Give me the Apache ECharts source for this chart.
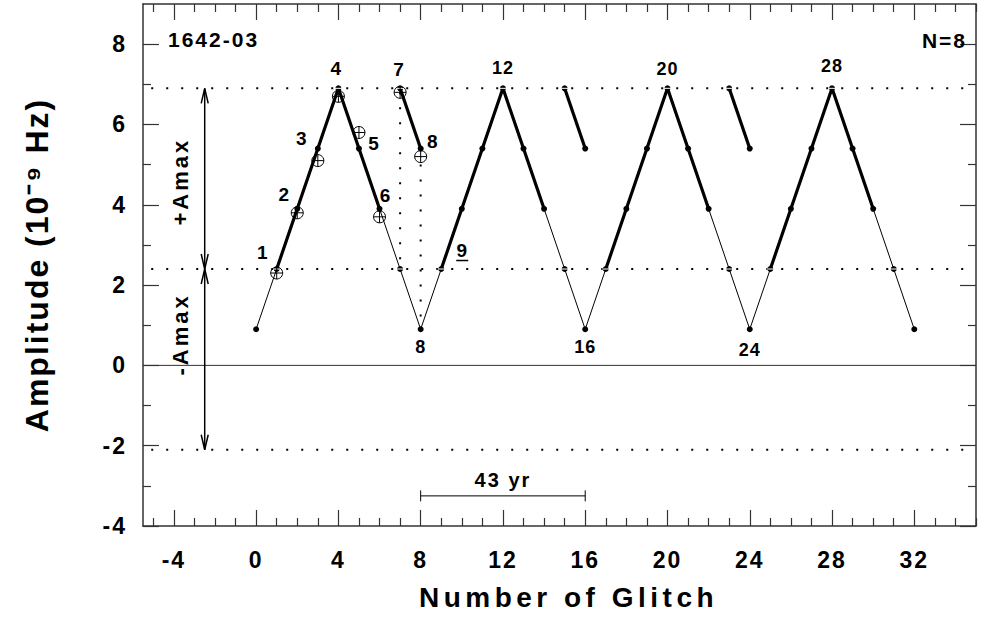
<!DOCTYPE html>
<html><head><meta charset="utf-8">
<script src="https://cdn.jsdelivr.net/npm/echarts@6/dist/echarts.min.js"></script>
<style>
html,body{margin:0;padding:0;background:#fff;}
#main{width:989px;height:618px;}
#main text[style*="23px"]{letter-spacing:2px;}
#main text[style*="28px"]{letter-spacing:4.5px;}
#main text[style*="32px"]{letter-spacing:2px;}
#main text[style*="21px"]{letter-spacing:2px;}
#main text[style*="22px"]{letter-spacing:3px;}
#main text[style*="20px"]{letter-spacing:2px;}
#main text[style*="19px"]{letter-spacing:1px;}
#main text[style*="18px"]{letter-spacing:1px;}
</style></head><body><div id="main"></div>
<script>
// ---- data ----
const modelX = [0,1,2,3,4,5,6,7,8,9,10,11,12,13,14,15,16,17,18,19,20,21,22,23,24,25,26,27,28,29,30,31,32];
const modelY = [0.9,2.4,3.9,5.4,6.9,5.4,3.9,2.4,
                0.9,2.4,3.9,5.4,6.9,5.4,3.9,2.4,
                0.9,2.4,3.9,5.4,6.9,5.4,3.9,2.4,
                0.9,2.4,3.9,5.4,6.9,5.4,3.9,2.4,
                0.9];
const thickRanges = [[1,6],[9,14],[17,22],[25,30]];   // index ranges drawn bold
const shortSegX = [[7,8],[15,16],[23,24]];
const shortSegY = [[6.9,5.4],[6.9,5.4],[6.9,5.4]];
const obsX = [1,2,3,4,5,6,7,8];
const obsY = [2.3,3.8,5.1,6.7,5.8,3.7,6.8,5.2];
const obsNames = ['1','2','3','4','5','6','7','8'];
const modelLabelX = [8,12,16,20,24,28];
const modelLabelText = ['8','12','16','20','24','28'];
const nextGlitchX = 9;
const nextGlitchText = '9';
const aMaxTop = 6.9, aMaxMid = 2.4, aMaxBottom = -2.1;
const arrowX = -2.5;
const arrowSpans = [[aMaxMid, aMaxTop], [aMaxBottom, aMaxMid]];
const arrowTexts = ['+Amax', '-Amax'];
const scaleBarX = [8, 16];
const scaleBarY = -3.25;
const scaleBarText = '43 yr';
const xTicks = [-4,0,4,8,12,16,20,24,28,32];
const xMinor = [-5,-3,-2,-1,1,2,3,5,6,7,9,10,11,13,14,15,17,18,19,21,22,23,25,26,27,29,30,31,33,34,35];
const yTicks = [-4,-2,0,2,4,6,8];
const yMinor = [-3,-1,1,3,5,7];
const X_MIN = -5.5, X_MAX = 35, Y_MIN = -4, Y_MAX = 9;

// ---- styling ----
const FF = "'Liberation Sans', Arial, Helvetica, sans-serif";
const obsLabelOffset = [[-14,-21],[-13,-18],[-16,-22],[-2,-28],[15,11],[6,-21],[-1,-23],[12,-15]];
const modelLabelDy = [18,-20,18,-19,21,-22];
const nextGlitchOffset = [21,-19];
const arrowLabelDy = [3,-25];
const AX = '#333';

const chart = echarts.init(document.getElementById('main'), null, {renderer:'svg'});

function txt(text, size) {
  return {text:text, fill:'#000', fontSize:size, fontWeight:'bold', fontFamily:FF,
    align:'center', verticalAlign:'middle'};
}
function axisX(grid, pos, ticks, len, labels) {
  return {
    type:'value', gridIndex:grid, position:pos, min:X_MIN, max:X_MAX,
    axisLine:{show: grid===0, onZero:false, lineStyle:{color:AX, width:1.5}},
    axisTick:{show:true, inside:true, length:len, customValues:ticks, lineStyle:{color:AX, width:1.2}},
    axisLabel:labels ? {show:true, customValues:ticks, color:'#000', fontWeight:'bold', fontSize:23, fontFamily:FF, margin:22} : {show:false},
    splitLine:{show:false}
  };
}
function axisY(grid, pos, ticks, len, labels) {
  return {
    type:'value', gridIndex:grid, position:pos, min:Y_MIN, max:Y_MAX,
    axisLine:{show: grid===0, onZero:false, lineStyle:{color:AX, width:1.5}},
    axisTick:{show:true, inside:true, length:len, customValues:ticks, lineStyle:{color:AX, width:1.2}},
    axisLabel:labels ? {show:true, customValues:ticks, color:'#000', fontWeight:'bold', fontSize:23, fontFamily:FF, margin:16} : {show:false},
    splitLine:{show:false}
  };
}

const xAxes = [
  Object.assign(axisX(0,'bottom',xTicks,16,true), {name:'Number of Glitch', nameLocation:'middle', nameGap:57,
    nameTextStyle:{color:'#000', fontWeight:'bold', fontSize:28, fontFamily:FF, padding:[0,0,0,18]}}),
  axisX(0,'top',xTicks,16,false),
  axisX(1,'bottom',xMinor,8,false),
  axisX(1,'top',xMinor,8,false)
];
const yAxes = [
  Object.assign(axisY(0,'left',yTicks,16,true), {name:'Amplitude (10\u207B\u2079 Hz)', nameLocation:'middle', nameGap:90, nameRotate:90,
    nameTextStyle:{color:'#000', fontWeight:'bold', fontSize:32, fontFamily:FF, padding:[0,0,0,0]}}),
  axisY(0,'right',yTicks,16,false),
  axisY(1,'left',yMinor,8,false),
  axisY(1,'right',yMinor,8,false)
];

const series = [];
// zero line
series.push({type:'line', data:[[X_MIN,0],[X_MAX,0]], symbol:'none', silent:true,
  lineStyle:{color:AX, width:1}, z:1});
// dotted horizontal levels
[aMaxTop, aMaxMid, aMaxBottom].forEach(v => series.push({type:'line', data:[[X_MIN+0.4,v],[X_MAX,v]], symbol:'none',
  lineStyle:{color:'#000', width:2, type:[2,13]}, z:1}));
// dotted verticals from observations 7 and 8 down to model
series.push({type:'line', data:[[obsX[6], obsY[6]],[obsX[6], modelY[7]]], symbol:'none', lineStyle:{color:'#000', width:2, type:[2,13]}, z:1});
series.push({type:'line', data:[[obsX[7], obsY[7]-0.2],[obsX[7], modelY[8]]], symbol:'none', lineStyle:{color:'#000', width:2, type:[2,13]}, z:1});
// thin model line with dots
series.push({type:'line', data:modelX.map((x,i)=>[x,modelY[i]]), symbol:'circle', symbolSize:6, showSymbol:true,
  itemStyle:{color:'#000'}, lineStyle:{color:'#000', width:1}, z:3});
// thick parts
thickRanges.forEach(r => {
  const d = [];
  for (let i=r[0]; i<=r[1]; i++) d.push([modelX[i], modelY[i]]);
  series.push({type:'line', data:d, symbol:'none', lineStyle:{color:'#000', width:3.2}, z:4});
});
// short thick segments
shortSegX.forEach((sx,k) => series.push({type:'line', data:[[sx[0],shortSegY[k][0]],[sx[1],shortSegY[k][1]]],
  symbol:'circle', symbolSize:6, itemStyle:{color:'#000'}, lineStyle:{color:'#000', width:3.2}, z:4}));
// white stripes on markers at level crossings
const stripePts = [];
modelX.forEach((x,i)=>{ if (modelY[i]===aMaxMid || modelY[i]===aMaxTop) stripePts.push([x, modelY[i]]); });
shortSegX.forEach((sx,k)=> stripePts.push([sx[0], shortSegY[k][0]]));
series.push({type:'custom', data:stripePts, z:6, renderItem:(p,api)=>{
  const c = api.coord([api.value(0), api.value(1)]);
  return {type:'line', shape:{x1:c[0]-3.5, y1:c[1], x2:c[0]+3.5, y2:c[1]}, style:{stroke:'#fff', lineWidth:1}};
}});
// observed points (circle-plus) with labels
series.push({type:'custom', data:obsX.map((x,i)=>[x,obsY[i]]), z:8, renderItem:(p,api)=>{
  const c = api.coord([api.value(0), api.value(1)]);
  const o = obsLabelOffset[p.dataIndex];
  return {type:'group', children:[
    {type:'circle', shape:{cx:c[0], cy:c[1], r:6}, style:{fill:'rgba(255,255,255,0)', stroke:'#000', lineWidth:1}},
    {type:'line', shape:{x1:c[0]-6, y1:c[1], x2:c[0]+6, y2:c[1]}, style:{stroke:'#000', lineWidth:1}},
    {type:'line', shape:{x1:c[0], y1:c[1]-6, x2:c[0], y2:c[1]+6}, style:{stroke:'#000', lineWidth:1}},
    {type:'text', x:c[0]+o[0], y:c[1]+o[1], style:txt(obsNames[p.dataIndex], 19)}
  ]};
}});
// model labels
series.push({type:'custom', data:modelLabelX.map(x=>[x, modelY[modelX.indexOf(x)]]), z:8, renderItem:(p,api)=>{
  const c = api.coord([api.value(0), api.value(1)]);
  return {type:'text', x:c[0], y:c[1]+modelLabelDy[p.dataIndex], style:txt(modelLabelText[p.dataIndex], 18)};
}});
// next glitch label (underlined)
series.push({type:'custom', data:[[nextGlitchX, modelY[modelX.indexOf(nextGlitchX)]]], z:8, renderItem:(p,api)=>{
  const c = api.coord([api.value(0), api.value(1)]);
  const x = c[0]+nextGlitchOffset[0], y = c[1]+nextGlitchOffset[1];
  return {type:'group', children:[
    {type:'text', x:x, y:y, style:txt(nextGlitchText, 19)},
    {type:'line', shape:{x1:x-6, y1:y+10.5, x2:x+6, y2:y+10.5}, style:{stroke:'#000', lineWidth:1.5}}
  ]};
}});
// Amax arrows
series.push({type:'custom', data:arrowSpans.map(s=>[arrowX, s[0], s[1]]), z:7, renderItem:(p,api)=>{
  const a = api.coord([api.value(0), api.value(1)]);   // lower end
  const b = api.coord([api.value(0), api.value(2)]);   // upper end
  const L = 15, W = 3.5, x = a[0];
  const st = {stroke:'#000', lineWidth:1.5, fill:null};
  return {type:'group', children:[
    {type:'line', shape:{x1:x, y1:a[1], x2:x, y2:b[1]}, style:st},
    {type:'polyline', shape:{points:[[x-W,b[1]+L],[x,b[1]],[x+W,b[1]+L]]}, style:st},
    {type:'polyline', shape:{points:[[x-W,a[1]-L],[x,a[1]],[x+W,a[1]-L]]}, style:st},
    {type:'text', x:x-24, y:(a[1]+b[1])/2 + arrowLabelDy[p.dataIndex], rotation:Math.PI/2,
      style:txt(arrowTexts[p.dataIndex], 22)}
  ]};
}});
// scale bar
series.push({type:'custom', data:[[scaleBarX[0], scaleBarX[1], scaleBarY]], z:7, renderItem:(p,api)=>{
  const a = api.coord([api.value(0), api.value(2)]);
  const b = api.coord([api.value(1), api.value(2)]);
  const st = {stroke:'#000', lineWidth:1};
  return {type:'group', children:[
    {type:'line', shape:{x1:a[0], y1:a[1], x2:b[0], y2:b[1]}, style:st},
    {type:'line', shape:{x1:a[0], y1:a[1]-5.5, x2:a[0], y2:a[1]+5.5}, style:st},
    {type:'line', shape:{x1:b[0], y1:b[1]-5.5, x2:b[0], y2:b[1]+5.5}, style:st},
    {type:'text', x:(a[0]+b[0])/2, y:a[1]-16, style:txt(scaleBarText, 20)}
  ]};
}});

chart.setOption({
  animation:false,
  backgroundColor:'#fff',
  title:[
    {text:'1642-03', left:168, top:29, padding:0, textStyle:{color:'#000', fontWeight:'bold', fontSize:21, fontFamily:FF}},
    {text:'N=8', right:28, top:30, padding:0, textStyle:{color:'#000', fontWeight:'bold', fontSize:21, fontFamily:FF}}
  ],
  grid:[{left:143, right:13, top:4, bottom:92}, {left:143, right:13, top:4, bottom:92}],
  xAxis:xAxes,
  yAxis:yAxes,
  series:series
});
</script></body></html>
